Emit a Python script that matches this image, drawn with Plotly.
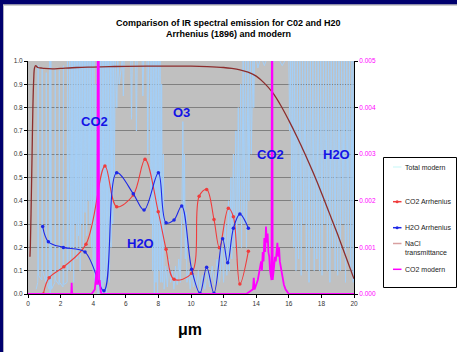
import plotly.graph_objects as go

# ---------------- data ----------------
# Total modern spectrum (light blue) (primary axis units, >1 = clipped)
tot_x = [0.50,0.60,0.62,0.64,0.85,0.87,0.89,1.10,1.12,1.14,1.30,1.33,1.36,1.40,1.44,1.65,1.67,1.69,1.90,1.92,1.94,2.15,2.17,2.19,2.40,2.42,2.44,
         2.55,2.60,2.65,2.70,2.75,2.80,2.85,2.90,2.95,3.00,3.05,3.10,3.15,3.20,3.25,3.30,3.35,3.40,3.45,3.50,3.55,3.60,3.65,3.70,3.75,3.80,3.85,3.90,3.95,4.00,4.05,4.10,
         4.15,4.20,4.25,4.30,4.35,4.40,4.45,4.50,
         4.55,4.60,4.65,4.70,4.75,4.80,4.85,4.90,4.95,5.00,5.05,5.10,5.15,5.20,5.25,5.30,5.35,5.45,5.50,5.60,
         5.80,5.85,5.90,6.30,6.35,6.40,6.60,6.65,6.70,7.00,7.05,7.10,7.30,7.35,7.40,
         7.50,7.55,7.60,7.65,7.70,7.75,7.80,7.85,7.90,7.95,8.00,8.05,8.10,8.15,8.20,8.25,8.30,
         8.35,8.45,8.55,8.65,8.75,8.85,8.95,9.05,9.15,9.25,9.35,
         9.45,9.50,9.55,9.60,9.65,9.70,9.75,
         9.85,9.95,10.05,10.15,10.25,10.35,10.45,10.55,10.70,10.85,11.00,11.15,11.30,11.45,11.60,11.75,11.90,12.00,12.10,12.20,
         12.30,12.35,12.45,12.50,12.60,12.65,12.75,12.80,12.90,12.95,13.05,13.10,13.20,13.25,13.35,13.40,13.50,13.55,13.65,13.70,13.80,13.85,13.90,
         14.00,14.10,14.30,14.50,14.70,15.00,15.30,15.60,15.90,
         16.00,16.06,16.12,16.18,16.24,16.30,16.36,16.44,16.52,16.60,16.68,16.76,16.84,16.92,17.00,17.08,17.16,17.24,17.32,17.40,17.48,17.56,
         17.64,17.72,17.80,17.88,17.96,18.04,18.12,18.20,18.28,18.36,18.44,18.52,18.60,18.68,18.76,18.84,18.92,19.00,19.08,19.16,19.24,19.32,
         19.40,19.48,19.56,19.64,19.72,19.80,19.88,19.95,20.00]
tot_y = [0.02,0.05,0.98,0.08,0.06,0.97,0.10,0.05,0.95,0.05,0.02,1.02,0.00,1.02,0.02,0.05,0.97,0.06,0.04,0.96,0.05,0.03,0.98,0.04,0.05,1.02,0.10,
         1.02,0.10,1.02,0.20,1.02,0.05,1.02,0.30,1.02,0.15,1.02,0.25,1.02,0.10,1.02,0.30,1.02,0.20,1.02,0.35,1.02,0.25,1.02,0.40,1.02,0.30,1.02,0.20,1.02,0.10,1.02,0.05,
         0.90,0.05,1.02,0.00,1.02,0.05,1.02,0.00,
         1.02,0.00,1.02,0.05,1.02,0.00,1.02,0.10,1.02,0.05,1.02,0.20,1.02,0.30,1.02,0.50,1.02,0.80,1.02,0.90,
         1.02,0.85,1.02,1.02,0.75,1.02,1.02,0.70,1.02,1.02,0.85,1.02,1.02,0.60,1.02,
         1.02,0.30,1.02,0.10,1.02,0.00,1.02,0.05,1.02,0.00,1.02,0.10,1.02,0.05,0.90,0.05,0.60,
         0.02,0.12,0.03,0.15,0.05,0.10,0.02,0.12,0.04,0.15,0.05,
         0.40,0.74,0.30,0.60,0.15,0.35,0.05,
         0.10,0.02,0.12,0.03,0.08,0.02,0.10,0.01,0.08,0.02,0.10,0.03,0.12,0.04,0.15,0.05,0.20,0.05,0.30,0.08,
         0.40,0.10,0.50,0.15,0.60,0.20,0.70,0.15,0.80,0.30,0.90,0.20,1.02,0.30,1.02,0.20,1.02,0.40,1.02,0.60,1.02,0.80,1.02,
         1.02,0.97,1.02,0.98,1.02,0.99,1.02,0.98,1.02,
         1.02,0.70,1.02,0.40,1.02,0.20,1.02,0.10,1.02,0.15,1.02,0.08,1.02,0.30,1.02,0.10,1.02,0.05,1.02,0.20,1.02,0.10,
         1.02,0.15,1.02,0.10,1.02,0.08,1.02,0.30,1.02,0.10,1.02,0.05,1.02,0.20,1.02,0.10,1.02,0.08,1.02,0.10,1.02,0.30,
         1.02,0.05,1.02,0.20,1.02,0.10,1.02,0.05,1.02]

# CO2 Arrhenius (red)
co2a_x = [0.94,1.30,2.20,3.56,4.72,5.44,6.46,7.18,7.99,8.47,8.96,10.04,10.50,10.96,11.41,11.74,12.29,12.60,13.00,13.52]
co2a_y = [0.000,0.070,0.117,0.214,0.549,0.375,0.425,0.578,0.353,0.192,0.063,0.089,0.420,0.449,0.320,0.199,0.368,0.332,0.043,0.184]

# H2O Arrhenius (blue)
h2oa_x = [0.90,1.25,2.17,3.50,4.66,5.44,6.46,7.12,8.00,8.47,8.96,9.43,10.04,10.55,10.96,11.41,11.94,12.25,12.60,13.00,13.52]
h2oa_y = [0.290,0.224,0.200,0.180,0.014,0.520,0.430,0.360,0.520,0.306,0.318,0.378,0.106,0.003,0.115,0.003,0.237,0.134,0.282,0.343,0.282]

# NaCl transmittance
nacl_x = [0.12,0.15,0.20,0.25,0.30,0.35,0.40,0.47,0.60,0.80,1.00,1.50,2.00,3.00,4.00,5.00,6.00,8.00,10.00,11.00,12.00,12.50,13.00,13.50,14.00,14.50,
          15.00,15.50,16.00,16.50,17.00,17.50,18.00,18.50,19.00,19.50,20.00]
nacl_y = [0.16,0.22,0.40,0.60,0.80,0.92,0.97,0.980,0.972,0.970,0.968,0.966,0.968,0.972,0.974,0.976,0.977,0.978,0.978,0.976,0.972,0.968,0.962,0.952,0.935,0.905,
          0.865,0.810,0.745,0.675,0.600,0.520,0.435,0.345,0.255,0.160,0.065]

# CO2 modern (secondary axis)
co2m_x = [0.0,2.64,2.66,2.68,2.70,2.72,3.90,4.00,4.10,4.15,4.20,4.24,4.26,4.28,4.32,4.34,4.36,4.40,4.45,4.50,
          13.40,13.60,13.80,13.85,13.90,14.00,14.10,14.20,14.30,14.35,14.40,14.45,14.50,14.55,14.60,14.65,14.70,14.75,14.80,14.85,14.90,14.94,
          14.96,14.99,15.01,15.05,15.10,15.15,15.20,15.25,15.30,15.35,15.40,15.45,15.50,15.60,15.70,15.80,15.90,16.00,20.0]
co2m_y = [0.0,0.0,0.00005,0.00024,0.00005,0.0,0.0,0.00005,0.0001,0.0003,0.0005,0.0002,0.0053,0.0053,0.0053,0.0053,0.0002,0.0003,0.0001,0.0,
          0.0,0.00005,0.0001,0.00035,0.0001,0.0002,0.0003,0.0005,0.0007,0.0005,0.0009,0.0007,0.0012,0.0009,0.00145,0.0011,0.0013,0.0009,0.0008,0.0005,0.0004,0.0003,
          0.0053,0.0053,0.0003,0.0004,0.0006,0.0008,0.0007,0.0009,0.0011,0.0008,0.0010,0.0007,0.0006,0.0004,0.0002,0.0001,0.00005,0.0,0.0]

x_ticks = list(range(0, 21, 2))
title_lines = ["Comparison of IR spectral emission for C02 and H20", "Arrhenius (1896) and modern"]
band_labels = [("CO2", 4.1, 0.74), ("O3", 9.4, 0.78), ("H2O", 6.9, 0.215), ("CO2", 14.85, 0.60), ("H2O", 18.9, 0.60)]
legend_names = ["Total modern", "CO2 Arrhenius", "H2O Arrhenius", "NaCl<br>transmittance", "CO2 modern"]

# ---------------- styling ----------------
FONT = "Liberation Sans, Arial, sans-serif"
C_TOT = "#a3cff8"
C_RED = "#f03c3c"
C_BLUE = "#1e28e6"
C_NACL = "#8c2d2d"
C_MAG = "#ff00ff"

W, H = 457, 352
L, R, T, B = 28, 103, 61, 58
PW, PH = W - L - R, H - T - B

def px(x):
    return (x - L) / PW

def py(y):
    return (H - B - y) / PH

fig = go.Figure()
fig.add_trace(go.Scatter(x=tot_x, y=tot_y, mode="lines", line=dict(color=C_TOT, width=1), name="Total modern"))
fig.add_trace(go.Scatter(x=nacl_x, y=nacl_y, mode="lines", line=dict(color=C_NACL, width=1.3, shape="spline"), name="NaCl transmittance"))
fig.add_trace(go.Scatter(x=co2a_x, y=co2a_y, mode="lines+markers", line=dict(color=C_RED, width=1.1, shape="spline"),
                         marker=dict(size=3.5, color=C_RED), name="CO2 Arrhenius"))
fig.add_trace(go.Scatter(x=h2oa_x, y=h2oa_y, mode="lines+markers", line=dict(color=C_BLUE, width=1.1, shape="spline"),
                         marker=dict(size=3.5, color=C_BLUE), name="H2O Arrhenius"))
fig.add_trace(go.Scatter(x=co2m_x, y=co2m_y, mode="lines", line=dict(color=C_MAG, width=1.8), yaxis="y2", name="CO2 modern"))

fig.update_layout(
    width=W, height=H, margin=dict(l=L, r=R, t=T, b=B, pad=0),
    paper_bgcolor="white", plot_bgcolor="#c0c0c0", showlegend=False,
    font=dict(family=FONT, size=6.5, color="#222222"),
    xaxis=dict(range=[0, 20], tickvals=x_ticks, ticks="outside", ticklen=3, tickcolor="black",
               showline=True, linecolor="black", linewidth=1, showgrid=False, zeroline=False,
               tickfont=dict(size=6.5, color="#333333")),
    yaxis=dict(range=[0, 1], dtick=0.1, tickformat=".1f", ticks="outside", ticklen=3, tickcolor="black",
               showline=True, linecolor="black", linewidth=1, showgrid=True, gridcolor="#808080", gridwidth=1,
               zeroline=False, tickfont=dict(size=6.5, color="#333333")),
    yaxis2=dict(range=[0, 0.005], dtick=0.001, tickformat=".3f", overlaying="y", side="right", ticks="outside",
                ticklen=3, tickcolor="black", showline=True, linecolor="black", linewidth=1, showgrid=False,
                zeroline=False, tickfont=dict(size=6.5, color=C_MAG)),
)

ann = []
for i, t in enumerate(title_lines):
    ann.append(dict(text="<b>%s</b>" % t, x=px(228.5), y=py(23 + 11 * i), xref="paper", yref="paper",
                    showarrow=False, xanchor="center", yanchor="middle", font=dict(size=9, color="black")))
for lab, xv, yv in band_labels:
    ann.append(dict(text="<b>%s</b>" % lab, x=xv, y=yv, xref="x", yref="y", showarrow=False,
                    font=dict(size=13, color="#1414e6")))
ann.append(dict(text="<b>\u03bcm</b>", x=px(190), y=py(329), xref="paper", yref="paper", showarrow=False,
                xanchor="center", yanchor="middle", font=dict(size=16, color="black")))

shapes = []
# page frame
shapes.append(dict(type="rect", xref="paper", yref="paper", x0=px(0), x1=px(W), y0=py(0), y1=py(4.5),
                   fillcolor="#00006e", line=dict(width=0), layer="above"))
shapes.append(dict(type="rect", xref="paper", yref="paper", x0=px(0), x1=px(W), y0=py(4.5), y1=py(5.5),
                   fillcolor="#a0a0a0", line=dict(width=0), layer="above"))
shapes.append(dict(type="rect", xref="paper", yref="paper", x0=px(0), x1=px(3), y0=py(0), y1=py(H),
                   fillcolor="#00006e", line=dict(width=0), layer="above"))
shapes.append(dict(type="rect", xref="paper", yref="paper", x0=px(3), x1=px(4), y0=py(5.5), y1=py(H),
                   fillcolor="#b0b0c0", line=dict(width=0), layer="above"))
# legend box
shapes.append(dict(type="rect", xref="paper", yref="paper", x0=px(383.5), x1=px(456.5), y0=py(157.5), y1=py(287.5),
                   fillcolor="white", line=dict(color="black", width=1), layer="above"))
leg_y = [167, 201.7, 227.7, 243.5, 269.3]
leg_col = ["#d8fafa", C_RED, C_BLUE, "#d8a0a0", C_MAG]
for i, (nm, yy, cc) in enumerate(zip(legend_names, leg_y, leg_col)):
    shapes.append(dict(type="line", xref="paper", yref="paper", x0=px(393), x1=px(401.5), y0=py(yy), y1=py(yy),
                       line=dict(color=cc, width=1.5), layer="above"))
    if i in (1, 2):
        shapes.append(dict(type="circle", xref="paper", yref="paper", x0=px(395.6), x1=px(398.6),
                           y0=py(yy - 1.5), y1=py(yy + 1.5), fillcolor=cc, line=dict(width=0), layer="above"))
    ann.append(dict(text=nm, x=px(403), y=py(yy + (4.2 if i == 3 else 0)), xref="paper", yref="paper", showarrow=False,
                    xanchor="left", yanchor="middle", align="left", font=dict(size=7, color="#222222")))

fig.update_layout(annotations=ann, shapes=shapes)
fig.write_html("out.html")
